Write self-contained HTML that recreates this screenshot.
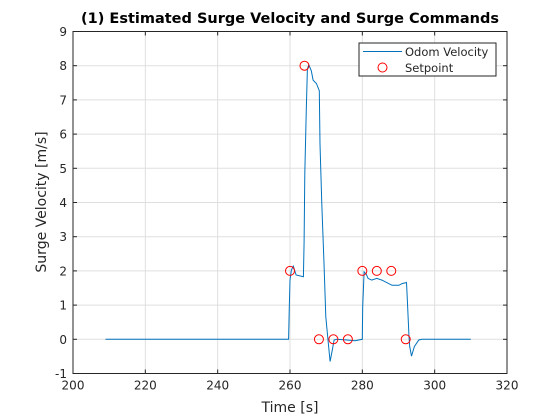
<!DOCTYPE html>
<html><head><meta charset="utf-8"><style>
html,body{margin:0;padding:0;background:#fff;}
svg{display:block;font-family:"DejaVu Sans","Liberation Sans",sans-serif;}
</style></head><body>
<svg id="chart" width="560" height="420" xmlns="http://www.w3.org/2000/svg">
<rect x="0" y="0" width="560" height="420" fill="#fff"/>
<g id="grid"></g>
<g id="series"></g>
<rect x="73" y="31.5" width="434" height="342" fill="none" stroke="#262626" stroke-width="1"/>
<g id="ticks"></g>
<text x="290" y="23" text-anchor="middle" font-size="14.5" font-weight="bold" fill="#000">(1) Estimated Surge Velocity and Surge Commands</text>
<text x="290" y="412" text-anchor="middle" font-size="14" fill="#262626">Time [s]</text>
<text transform="translate(46,202) rotate(-90)" text-anchor="middle" font-size="14" fill="#262626">Surge Velocity [m/s]</text>
<g>
<rect x="359" y="43" width="137" height="33" fill="#fff" stroke="#262626" stroke-width="1"/>
<line x1="363" y1="51.5" x2="402" y2="51.5" stroke="#0072bd" stroke-width="1"/>
<text x="405" y="56" font-size="11.5" fill="#262626">Odom Velocity</text>
<circle cx="382.5" cy="67.5" r="4.5" fill="none" stroke="#ff0000" stroke-width="1"/>
<text x="405" y="72" font-size="11.5" fill="#262626">Setpoint</text>
</g>
</svg>
<script>
const xTicks = [200,220,240,260,280,300,320];
const yTicks = [-1,0,1,2,3,4,5,6,7,8,9];
const odomT = [209,259.6,259.8,260,260.4,260.9,261.7,263.7,263.9,264.1,264.5,264.8,265.2,265.9,266.4,267.3,268.1,268.3,268.8,269.4,269.9,270.5,271.1,271.6,272.2,272.9,275.7,278,280,280.1,280.5,281.1,281.6,282.6,284,285.4,288.2,290.1,291,292.2,292.4,292.9,293.1,293.6,294.4,295.6,296.5,310];
const odomV = [0,0,0.95,1.73,2.02,2.14,1.88,1.83,2.85,4.84,6.73,7.9,8.03,7.85,7.58,7.48,7.27,5.71,3.96,2.22,0.66,-0.02,-0.65,-0.36,-0.02,0,-0.02,-0.04,0,0.95,1.97,1.9,1.78,1.73,1.78,1.73,1.58,1.58,1.63,1.66,1.24,0.08,-0.21,-0.49,-0.21,-0.02,0,0];
const spT = [260,264,268,272,276,280,284,288,292];
const spV = [2,8,0,0,0,2,2,2,0];

const NS="http://www.w3.org/2000/svg";
const L=73,R=507,T=31.5,B=373.5;
const xs=v=>L+(v-200)/120*(R-L);
const ys=v=>B-(v+1)/10*(B-T);
const grid=document.getElementById('grid'),ticks=document.getElementById('ticks'),series=document.getElementById('series');
function mk(tag,attrs,parent){const e=document.createElementNS(NS,tag);for(const k in attrs)e.setAttribute(k,attrs[k]);parent.appendChild(e);return e;}
xTicks.forEach(v=>{
  const x=xs(v);
  if(v>200&&v<320){const g=mk('line',{x1:x,y1:T,x2:x,y2:B,stroke:'#dfdfdf','stroke-width':1},grid);
  
  }
  const t1=mk('line',{x1:x,y1:B,x2:x,y2:B-4,stroke:'#262626'},ticks);
  
  
  const t2=mk('line',{x1:x,y1:T,x2:x,y2:T+4,stroke:'#262626'},ticks);
  
  
  const tl=mk('text',{x:x,y:B+16,'text-anchor':'middle','font-size':12,fill:'#262626'},ticks);
  tl.textContent=v;
  
  
});
yTicks.forEach(v=>{
  const y=ys(v);
  if(v>-1&&v<9){const g=mk('line',{x1:L,y1:y,x2:R,y2:y,stroke:'#dfdfdf','stroke-width':1},grid);
  
  }
  const t1=mk('line',{x1:L,y1:y,x2:L+4,y2:y,stroke:'#262626'},ticks);
  
  
  const t2=mk('line',{x1:R,y1:y,x2:R-4,y2:y,stroke:'#262626'},ticks);
  
  
  const tl=mk('text',{x:L-6,y:y+4.5,'text-anchor':'end','font-size':12,fill:'#262626'},ticks);
  tl.textContent=v;
  
  
});
const pts=odomT.map((t,i)=>xs(t).toFixed(1)+','+ys(odomV[i]).toFixed(1)).join(' ');
const pl=mk('polyline',{points:pts,fill:'none',stroke:'#0072bd','stroke-width':1},series);


spT.forEach((t,i)=>{
  const m=mk('circle',{cx:xs(t),cy:ys(spV[i]),r:4.5,fill:'none',stroke:'#ff0000','stroke-width':1},series);
  
  
});
</script>
</body></html>
